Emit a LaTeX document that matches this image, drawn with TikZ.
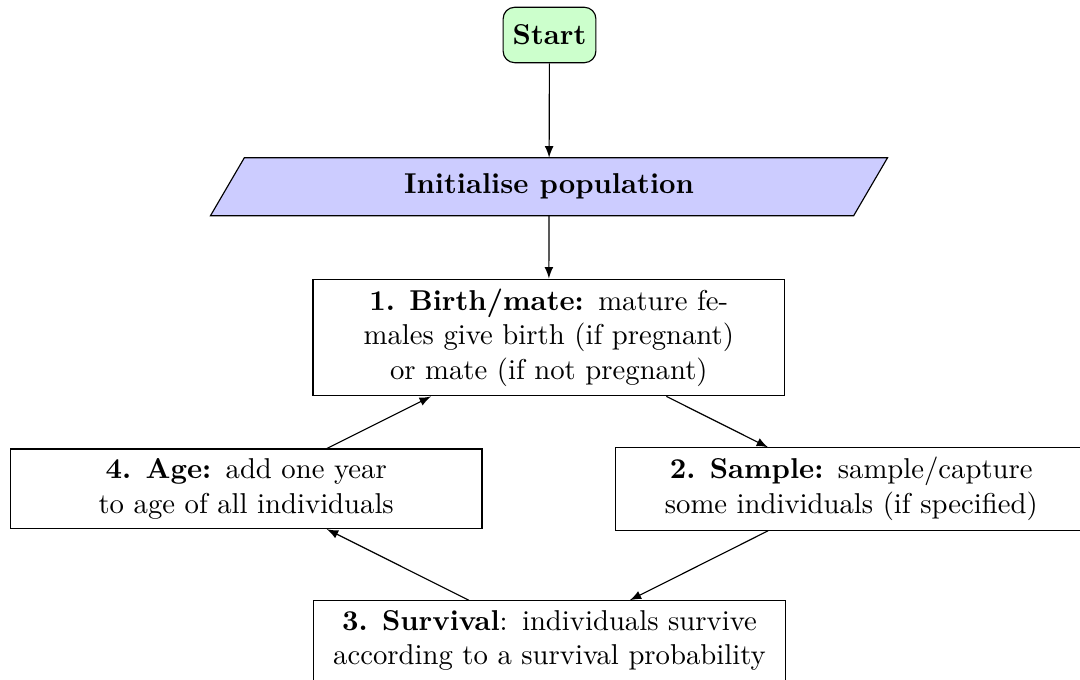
\documentclass[tikz,border=0pt]{standalone}
\usetikzlibrary{arrows,backgrounds}
\tikzset{
  startbox/.style={draw=black, fill=green!20, rounded corners=4pt, line width=0.4pt,
    minimum height=19.3pt, inner sep=3.33pt, font=\bfseries},
  iobox/.style={minimum width=223.7pt, minimum height=19.8pt, inner sep=0pt, font=\bfseries},
  procbox/.style={draw=black, line width=0.4pt, text width=157.7pt, align=center, inner sep=3.33pt},
  conn/.style={-latex, line width=0.4pt}
}
\begin{document}
\begin{tikzpicture}[x=1pt,y=1pt]
\useasboundingbox (0,0) rectangle (376.3,236.58);
\node[startbox] (start) at (191.46,224.39) {Start};
\node[iobox] (init) at (191.29,171.53) {Initialise population};
\begin{scope}[on background layer]
\draw[fill=blue!20, line width=0.4pt] ([xshift=-5.9pt]init.south west) -- ([xshift=-5.9pt]init.south east)
  -- ([xshift=5.9pt]init.north east) -- ([xshift=5.9pt]init.north west) -- cycle;
\end{scope}
\node[procbox] (b1) at (191.22,118.99) {\textbf{1. Birth/mate:} mature fe-\\males give birth (if pregnant)\\or mate (if not pregnant)};
\node[procbox] (b4) at (85.78,66.27) {\textbf{4. Age:} add one year\\to age of all individuals};
\node[procbox] (b2) at (296.6,66.2) {\textbf{2. Sample:} sample/capture\\some individuals (if specified)};
\node[procbox] (b3) at (191.46,13.4) {\textbf{3. Survival}: individuals survive\\according to a survival probability};
\draw[conn] (start) -- (init);
\draw[conn] (init) -- (b1);
\draw[conn] (b1) -- (b2);
\draw[conn] (b2) -- (b3);
\draw[conn] (b3) -- (b4);
\draw[conn] (b4) -- (b1);
\end{tikzpicture}
\end{document}
